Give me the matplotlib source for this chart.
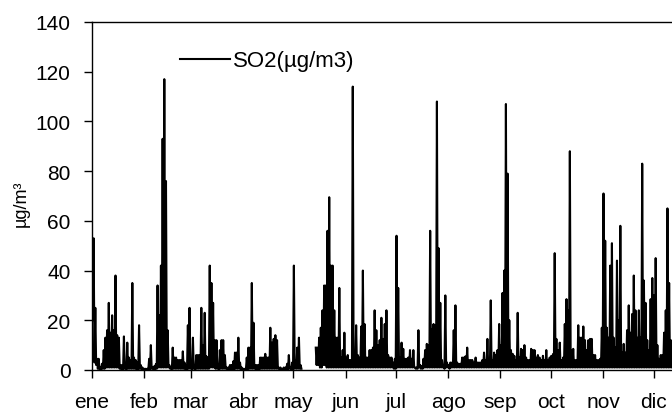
import numpy as np
import matplotlib
matplotlib.use("Agg")
import matplotlib.pyplot as plt

nan = float("nan")

months = ["ene", "feb", "mar", "abr", "may", "jun", "jul", "ago", "sep", "oct", "nov", "dic"]
month_start_day = [0, 31, 59, 90, 120, 151, 181, 212, 243, 273, 304, 334]
y_ticks = [0, 20, 40, 60, 80, 100, 120, 140]

# daily maximum SO2 (µg/m3), day 0 = 1 Jan
daily_max = [
    28, 53, 25, 4.5, 4.5, 1, 2.5, 8, 13, 16,
    27, 15, 22, 16, 38, 14, 13, 2, 2, 13.5,
    2, 11, 5, 4, 35, 5, 4, 3, 18, 2,
    1, 0.5, 0.5, 0.5, 4.5, 10, 1, 1.5, 2.4, 34,
    22, 42, 93, 117, 76, 16, 2, 1, 9, 5,
    5, 4, 4, 4, 7.5, 3, 2, 18, 25, 1.5,
    13, 1, 6, 6, 6, 25, 10, 23, 5.5, 5,
    42, 35, 27, 12, 12, 1, 8, 12, 12, 6,
    1, 1, 2, 2, 3.5, 7, 7, 13, 3, 1,
    0.5, 0.5, 5, 9, 9, 35, 19, 2, 2, 2,
    5, 5, 5, 6.5, 5, 5, 17, 11, 12.5, 14,
    12, 1, 1, 0.5, 1, 1, 2.5, 6, 1, 3,
    42, 4, 9, 13, 2, nan, nan, nan, nan, nan,
    nan, nan, nan, 9, 9, 13, 17, 24, 34, 34,
    56, 69.5, 42, 42, 24, 13, 13, 33, 5, 8,
    15, 5, 6, 4, 4, 114, 6, 18, 6, 5,
    17.5, 40, 18.5, 5, 5, 8, 8, 9, 24, 16,
    10, 12, 21, 12.5, 18.5, 24, 6, 5, 5, 3,
    4.5, 54, 33, 5, 11, 8.5, 4.5, 4.5, 5, 8,
    4.5, 8, 1, 1, 16, 2, 1.5, 4.5, 8, 10.5,
    10, 56, 16.5, 18.5, 18, 108, 49, 27, 4, 2,
    30, 3, 2, 3, 3, 16, 26, 3, 2.5, 2.5,
    5, 5, 5.5, 9, 4, 4, 4, 3, 5, 3,
    3, 3, 4, 7, 4, 12.5, 4, 28, 4, 7,
    6, 8, 18.5, 10, 31, 40, 107, 79, 20, 8,
    6.5, 5.7, 4, 23, 5, 8.5, 8, 10, 5, 4,
    4, 8.5, 8, 8, 5, 6, 5, 4, 5.7, 4,
    8, 4, 5, 5.7, 6.4, 47, 12.5, 8, 11, 4,
    5, 18.5, 28.5, 24, 88, 8, 8.5, 4, 4, 18,
    13, 13, 17.5, 12, 8, 12, 12.5, 12.5, 6, 6,
    4, 4, 4.5, 17, 71, 52, 17, 13, 42, 51,
    13, 9, 44, 20, 58, 7, 10.5, 7, 16, 26,
    15, 22.5, 38, 24, 13, 24, 13, 83, 36, 27,
    12, 8, 28.5, 37, 30, 45, 10, 4.5, 6, 6,
    15, 24, 65, 35, 12, 10,
]

# daily minimum SO2 (µg/m3)
daily_min = [
    20, 3, 2, 0.5, 0.3, 0.3, 0.5, 0.5, 1, 1,
    1, 1, 1, 1, 1, 1, 0.5, 0.3, 0.3, 0.5,
    0.3, 0.5, 0.5, 0.5, 0.5, 0.5, 0.3, 0.3, 0.5, 0.3,
    0.3, 0.2, 0.2, 0.2, 0.3, 0.5, 0.3, 0.3, 0.5, 1,
    1, 1, 1, 1, 1, 1, 0.5, 0.3, 0.5, 0.5,
    0.5, 0.5, 0.5, 0.5, 0.5, 0.3, 0.3, 0.5, 0.5, 0.3,
    0.5, 0.3, 0.5, 0.5, 0.5, 0.5, 0.5, 0.5, 0.5, 0.5,
    1, 1, 1, 0.5, 0.5, 0.3, 0.5, 0.5, 0.5, 0.5,
    0.3, 0.3, 0.3, 0.3, 0.3, 0.5, 0.5, 0.5, 0.3, 0.3,
    0.2, 0.2, 0.3, 0.5, 0.5, 0.5, 0.5, 0.3, 0.3, 0.3,
    0.5, 0.5, 0.5, 0.5, 0.5, 0.5, 0.5, 0.5, 0.5, 0.5,
    0.5, 0.3, 0.3, 0.2, 0.3, 0.3, 0.3, 0.5, 0.3, 0.3,
    0.5, 0.5, 0.5, 0.5, 0.5, nan, nan, nan, nan, nan,
    nan, nan, nan, 2, 2, 1, 1, 2, 2, 1,
    1, 1, 1, 1, 1, 1, 1, 1, 1, 1,
    1, 1, 1, 1, 1, 1, 1, 1, 1, 1,
    1, 1, 1, 1, 1, 1, 1, 1, 1, 1,
    1, 1, 1, 1, 1, 1, 1, 1, 1, 0.5,
    0.5, 1, 1, 1, 1, 1, 1, 1, 1, 1,
    1, 1, 0.5, 0.5, 1, 0.5, 0.5, 1, 1, 1,
    1, 1, 1, 1, 1, 1, 1, 1, 1, 0.5,
    1, 1, 0.5, 1, 1, 1, 1, 1, 1, 1,
    1, 1, 1, 1, 1, 1, 1, 1, 1, 1,
    1, 1, 1, 1, 1, 1, 1, 1, 1, 1,
    1, 1, 1, 1, 1, 1, 1, 1, 1, 1,
    1, 1, 1, 1, 1, 1, 1, 1, 1, 1,
    1, 1, 1, 1, 1, 1, 1, 1, 1, 1,
    1, 1, 1, 1, 1, 1, 1, 1, 1, 1,
    1, 1, 1, 1, 1, 1, 1, 1, 1, 1,
    1, 1, 1, 1, 1, 1, 1, 1, 1, 1,
    1, 1, 1, 1, 1, 1, 1, 1, 1, 1,
    1, 1, 1, 1, 1, 1, 1, 1, 1, 1,
    1, 1, 1, 1, 1, 1, 1, 1, 1, 1,
    1, 1, 1, 1, 1, 1, 1, 1, 1, 1,
    1, 1, 1, 1, 1, 1,
]

series_label = "SO2(µg/m3)"
y_label = "µg/m³"

plt.rcParams["font.family"] = ["Liberation Sans", "DejaVu Sans"]

fig = plt.figure(figsize=(6.72, 4.14), dpi=100)
ax = fig.add_axes([0.1362, 0.1039, 0.914, 0.8406])

dmax = np.array(daily_max, dtype=float)
dmin = np.array(daily_min, dtype=float)
days = np.arange(len(dmax))
t = np.column_stack([days + 0.25, days + 0.75]).ravel()
v = np.column_stack([dmax, dmin]).ravel()

ax.plot(t, v, color="black", lw=1.5, label=series_label)

ax.set_xlim(0, 365)
ax.set_ylim(0, 140)
ax.set_yticks(y_ticks)
ax.set_xticks(month_start_day)
ax.set_xticklabels(months)
ax.tick_params(axis="both", direction="out", length=6, width=1, labelsize=15, color="black")
ax.tick_params(axis="y", pad=9)
ax.tick_params(axis="x", pad=10)
for s in ax.spines.values():
    s.set_linewidth(1.0)

ax.set_ylabel(y_label, fontsize=13)
ax.yaxis.set_label_coords(-0.1, 0.481)

leg = ax.legend(loc="center left", bbox_to_anchor=(0.144, 0.888), frameon=False,
                fontsize=16, handlelength=2.25, handletextpad=0.13, borderpad=0, borderaxespad=0)
for h in leg.get_lines():
    h.set_linewidth(1.5)

fig.savefig("out.png", dpi=100)
